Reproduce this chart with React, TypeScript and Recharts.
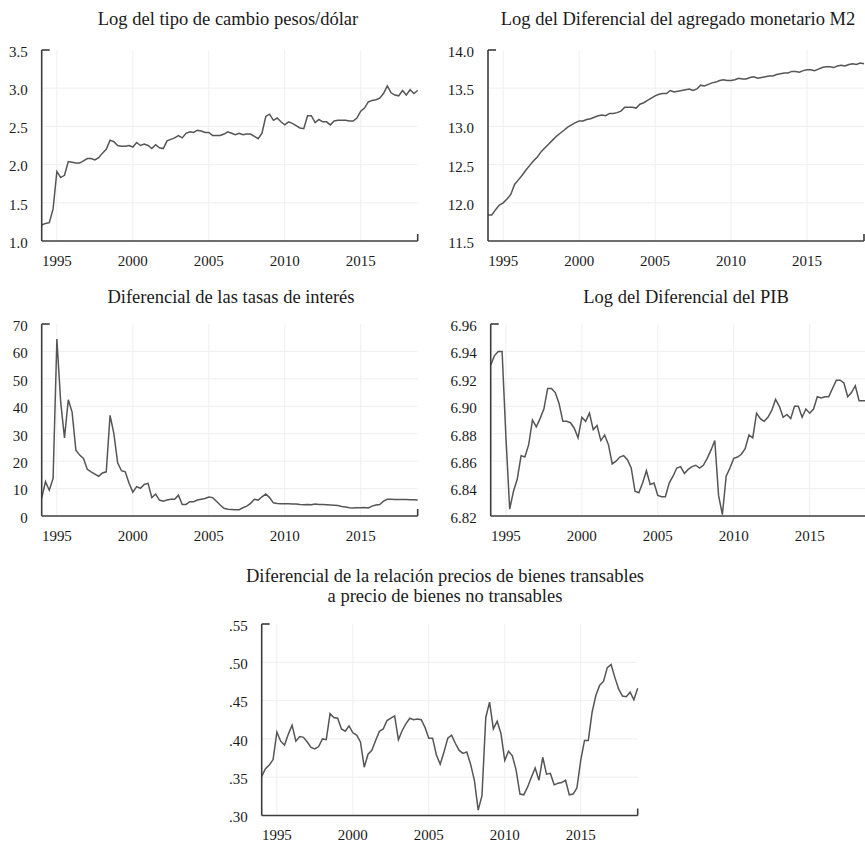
import React from 'react';
import { LineChart, Line, XAxis, YAxis, ReferenceLine } from 'recharts';

// ---------- categories ----------
const periods: string[] = [];
for (let y = 1994; y <= 2018; y++) for (let q = 1; q <= 4; q++) periods.push(`${y}Q${q}`);

const xTickYears = [1995, 2000, 2005, 2010, 2015];
const X_START = 1994;
const X_END = 2018.75;

// ---------- series (quarterly 1994Q1 - 2018Q4) ----------
const tipoCambio = [
  1.21, 1.23, 1.24, 1.42,
  1.91, 1.83, 1.86, 2.04,
  2.03, 2.02, 2.02, 2.05,
  2.08, 2.08, 2.06, 2.09,
  2.15, 2.20, 2.32, 2.30,
  2.25, 2.24, 2.24, 2.25,
  2.23, 2.29, 2.25, 2.27,
  2.25, 2.21, 2.26, 2.22,
  2.21, 2.31, 2.33, 2.35,
  2.38, 2.35, 2.41, 2.43,
  2.42, 2.45, 2.44, 2.42,
  2.42, 2.38, 2.38, 2.38,
  2.40, 2.43, 2.41, 2.39,
  2.41, 2.39, 2.40, 2.40,
  2.37, 2.34, 2.41, 2.63,
  2.66, 2.58, 2.61, 2.56,
  2.52, 2.56, 2.54, 2.51,
  2.48, 2.47, 2.64, 2.64,
  2.55, 2.59, 2.56, 2.56,
  2.52, 2.57, 2.58, 2.58,
  2.58, 2.57, 2.57, 2.61,
  2.70, 2.74, 2.82, 2.84,
  2.85, 2.87, 2.93, 3.03,
  2.94, 2.91, 2.90, 2.97,
  2.91, 2.98, 2.93, 2.97,
];

const m2 = [
  11.84, 11.84, 11.91, 11.97,
  12.00, 12.05, 12.11, 12.24,
  12.30, 12.36, 12.43, 12.49,
  12.55, 12.60, 12.67, 12.72,
  12.77, 12.82, 12.87, 12.91,
  12.95, 12.99, 13.02, 13.05,
  13.07, 13.07, 13.09, 13.10,
  13.12, 13.14, 13.15, 13.14,
  13.17, 13.17, 13.18, 13.20,
  13.25, 13.25, 13.25, 13.24,
  13.29, 13.31, 13.34, 13.37,
  13.40, 13.42, 13.43, 13.43,
  13.47, 13.45, 13.46, 13.47,
  13.48, 13.49, 13.47, 13.49,
  13.54, 13.53, 13.55, 13.57,
  13.58, 13.60, 13.61, 13.60,
  13.60, 13.61, 13.63, 13.62,
  13.62, 13.64, 13.65, 13.63,
  13.64, 13.65, 13.66, 13.66,
  13.68, 13.69, 13.70, 13.70,
  13.72, 13.72, 13.71, 13.73,
  13.74, 13.74, 13.73, 13.75,
  13.77, 13.78, 13.78, 13.77,
  13.79, 13.80, 13.79, 13.81,
  13.82, 13.81, 13.83, 13.82,
];

const tasas = [
  6.5, 12.5, 9.4, 13.7,
  64.5, 41.5, 28.5, 42.4,
  37.9, 24.0, 22.2, 21.0,
  17.0, 16.1, 15.3, 14.5,
  15.7, 16.1, 36.7, 30.0,
  19.4, 16.5, 16.1, 11.9,
  8.7, 10.7, 10.1, 11.5,
  11.9, 6.7, 8.0, 5.8,
  5.4, 5.8, 6.1, 6.1,
  7.6, 4.2, 4.2, 5.2,
  5.2, 5.8, 6.1, 6.4,
  6.9, 6.7, 5.4, 4.0,
  2.8, 2.5, 2.4, 2.3,
  2.3, 3.0, 3.6, 4.6,
  6.1, 5.8, 7.0, 8.0,
  6.7, 4.8, 4.6, 4.5,
  4.5, 4.5, 4.4, 4.4,
  4.2, 4.1, 4.2, 4.1,
  4.4, 4.2, 4.2, 4.1,
  4.0, 3.9, 3.8, 3.5,
  3.3, 3.0, 2.9, 3.0,
  3.0, 3.1, 2.9, 3.6,
  4.0, 4.2, 5.4, 6.1,
  6.1, 6.0, 6.0, 6.0,
  6.0, 5.9, 5.9, 5.8,
];

const pib = [
  6.930, 6.937, 6.940, 6.940,
  6.878, 6.825, 6.838, 6.847,
  6.864, 6.863, 6.872, 6.890,
  6.885, 6.891, 6.898, 6.913,
  6.913, 6.910, 6.902, 6.889,
  6.889, 6.888, 6.884, 6.877,
  6.892, 6.889, 6.895, 6.883,
  6.886, 6.875, 6.879, 6.872,
  6.858, 6.860, 6.863, 6.864,
  6.861, 6.855, 6.838, 6.837,
  6.844, 6.853, 6.843, 6.844,
  6.835, 6.834, 6.834, 6.844,
  6.849, 6.855, 6.856, 6.851,
  6.854, 6.856, 6.857, 6.855,
  6.857, 6.862, 6.868, 6.875,
  6.835, 6.821, 6.849, 6.855,
  6.862, 6.863, 6.865, 6.869,
  6.879, 6.877, 6.895, 6.891,
  6.889, 6.892, 6.897, 6.905,
  6.900, 6.892, 6.894, 6.891,
  6.900, 6.900, 6.892, 6.898,
  6.895, 6.898, 6.907, 6.906,
  6.907, 6.907, 6.913, 6.919,
  6.919, 6.917, 6.907, 6.910,
  6.915, 6.904, 6.904, 6.904,
];

const transables = [
  0.351, 0.361, 0.366, 0.373,
  0.409, 0.397, 0.392, 0.406,
  0.418, 0.397, 0.403, 0.402,
  0.396, 0.389, 0.387, 0.390,
  0.400, 0.399, 0.433, 0.428,
  0.427, 0.413, 0.410, 0.417,
  0.408, 0.405, 0.396, 0.363,
  0.380, 0.385, 0.398, 0.410,
  0.413, 0.424, 0.427, 0.430,
  0.399, 0.411, 0.420, 0.427,
  0.425, 0.426, 0.425, 0.415,
  0.401, 0.401, 0.379, 0.367,
  0.383, 0.401, 0.405, 0.394,
  0.385, 0.381, 0.383, 0.367,
  0.346, 0.307, 0.326, 0.428,
  0.448, 0.413, 0.423, 0.407,
  0.372, 0.384, 0.378, 0.359,
  0.328, 0.327, 0.337, 0.350,
  0.362, 0.346, 0.376, 0.354,
  0.355, 0.340, 0.342, 0.343,
  0.346, 0.327, 0.328, 0.336,
  0.372, 0.398, 0.398, 0.435,
  0.457, 0.470, 0.475, 0.493,
  0.497, 0.480, 0.465, 0.456,
  0.455, 0.461, 0.451, 0.466,
];

// ---------- y tick labels ----------
const ticksTipoCambio = [1.0, 1.5, 2.0, 2.5, 3.0, 3.5];
const ticksM2 = [11.5, 12.0, 12.5, 13.0, 13.5, 14.0];
const ticksTasas = [0, 10, 20, 30, 40, 50, 60, 70];
const ticksPib = [6.82, 6.84, 6.86, 6.88, 6.90, 6.92, 6.94, 6.96];
const ticksTransables = [0.30, 0.35, 0.40, 0.45, 0.50, 0.55];

// ---------- titles ----------
const titleTipoCambio = 'Log del tipo de cambio pesos/dólar';
const titleM2 = 'Log del Diferencial del agregado monetario M2';
const titleTasas = 'Diferencial de las tasas de interés';
const titlePib = 'Log del Diferencial del PIB';
const titleTransables = ['Diferencial de la relación precios de bienes transables', 'a precio de bienes no transables'];

// ---------- styles ----------
const FONT = '"Liberation Serif", "Times New Roman", Times, serif';
const AXIS = '#3c3c3c';
const GRID = '#efefef';
const LINE = '#555555';
const TEXT = '#1a1a1a';
const TICK_SIZE = 6;
const Y_TICK_MARGIN = 8;
const X_TICK_MARGIN = 8;
const PLOT_W = 376;
const M_TOP = 50;
const X_AXIS_H = 32;

function toX(p: string) {
  const y = Number(p.slice(0, 4));
  const q = Number(p.slice(5));
  return y + (q - 1) / 4;
}

type PanelProps = {
  values: number[];
  yTicks: number[];
  fmt: (v: number) => string;
  left: number;
  yAxisWidth: number;
  plotTop: number;
  plotBottom: number;
};

function Panel({ values, yTicks, fmt, left, yAxisWidth, plotTop, plotBottom }: PanelProps) {
  const data = periods.map((p, i) => ({ t: toX(p), v: values[i] }));
  const yMin = yTicks[0];
  const yMax = yTicks[yTicks.length - 1];
  const width = yAxisWidth + PLOT_W + 12;
  const height = plotBottom - plotTop + M_TOP + X_AXIS_H;

  const YTick = (props: any) => {
    const { x, y, payload } = props;
    const axisX = x + TICK_SIZE + Y_TICK_MARGIN;
    return (
      <g>
        <text x={x} y={y + 1.5} dy="0.36em" textAnchor="end" fontFamily={FONT} fontSize={15} fill={TEXT}>
          {fmt(payload.value)}
        </text>
        {Math.abs(payload.value - yMax) < 1e-9 && (
          <line x1={axisX} x2={axisX + 8} y1={y} y2={y} stroke={AXIS} strokeWidth={1.6} />
        )}
      </g>
    );
  };

  const XTick = (props: any) => {
    const { x, y, payload } = props;
    if (Math.abs(payload.value - X_END) < 1e-9) {
      const axisY = y - TICK_SIZE - X_TICK_MARGIN;
      return <line x1={x} x2={x} y1={axisY} y2={axisY - 7} stroke={AXIS} strokeWidth={1.6} />;
    }
    return (
      <text x={x} y={y} dy="0.71em" textAnchor="middle" fontFamily={FONT} fontSize={15} fill={TEXT}>
        {payload.value}
      </text>
    );
  };

  return (
    <div style={{ position: 'absolute', left, top: plotTop - M_TOP, width, height }}>
      <LineChart width={width} height={height} data={data} margin={{ top: M_TOP, right: 12, bottom: 0, left: 0 }}>
        <XAxis
          dataKey="t"
          type="number"
          domain={[X_START, X_END]}
          ticks={[...xTickYears, X_END]}
          interval={0}
          height={X_AXIS_H}
          tickLine={false}
          tickSize={TICK_SIZE}
          tickMargin={X_TICK_MARGIN}
          axisLine={{ stroke: AXIS, strokeWidth: 1.6 }}
          tick={XTick}
        />
        <YAxis
          type="number"
          domain={[yMin, yMax]}
          ticks={yTicks}
          interval={0}
          width={yAxisWidth}
          tickLine={false}
          tickSize={TICK_SIZE}
          tickMargin={Y_TICK_MARGIN}
          axisLine={{ stroke: AXIS, strokeWidth: 1.6 }}
          tick={YTick}
          allowDataOverflow
        />
        {yTicks.slice(1, -1).map((v) => (
          <ReferenceLine key={`h${v}`} y={v} stroke={GRID} strokeWidth={1} />
        ))}
        {xTickYears.map((v) => (
          <ReferenceLine key={`v${v}`} x={v} stroke={GRID} strokeWidth={1} />
        ))}
        <Line
          type="linear"
          dataKey="v"
          stroke={LINE}
          strokeWidth={1.5}
          dot={false}
          activeDot={false}
          isAnimationActive={false}
        />
      </LineChart>
    </div>
  );
}

function Title({ lines, cx, top }: { lines: string[]; cx: number; top: number }) {
  return (
    <div
      style={{
        position: 'absolute',
        left: cx,
        top,
        transform: 'translateX(-50%)',
        whiteSpace: 'nowrap',
        textAlign: 'center',
        fontFamily: FONT,
        fontSize: 18.5,
        lineHeight: '20px',
        color: TEXT,
      }}
    >
      {lines.map((l, i) => (
        <div key={i}>{l}</div>
      ))}
    </div>
  );
}

const f1 = (v: number) => v.toFixed(1);
const f0 = (v: number) => String(v);
const f2 = (v: number) => v.toFixed(2);
const fDot = (v: number) => v.toFixed(2).replace(/^0/, '');

export default function App() {
  return (
    <div
      style={{
        position: 'absolute',
        left: 0,
        top: 0,
        width: 865,
        height: 843,
        overflow: 'hidden',
        background: '#ffffff',
      }}
    >
      <Title lines={[titleTipoCambio]} cx={228} top={8.5} />
      <Title lines={[titleM2]} cx={678} top={8.5} />
      <Title lines={[titleTasas]} cx={231} top={287} />
      <Title lines={[titlePib]} cx={686} top={287} />
      <Title lines={titleTransables} cx={445} top={565.5} />

      <Panel values={tipoCambio} yTicks={ticksTipoCambio} fmt={f1} left={0} yAxisWidth={41.7} plotTop={50} plotBottom={241} />
      <Panel values={m2} yTicks={ticksM2} fmt={f1} left={430} yAxisWidth={58} plotTop={50} plotBottom={241} />
      <Panel values={tasas} yTicks={ticksTasas} fmt={f0} left={0} yAxisWidth={41.7} plotTop={324} plotBottom={516} />
      <Panel values={pib} yTicks={ticksPib} fmt={f2} left={430} yAxisWidth={60.7} plotTop={324} plotBottom={516} />
      <Panel values={transables} yTicks={ticksTransables} fmt={fDot} left={220} yAxisWidth={41.7} plotTop={623.5} plotBottom={815} />
    </div>
  );
}
